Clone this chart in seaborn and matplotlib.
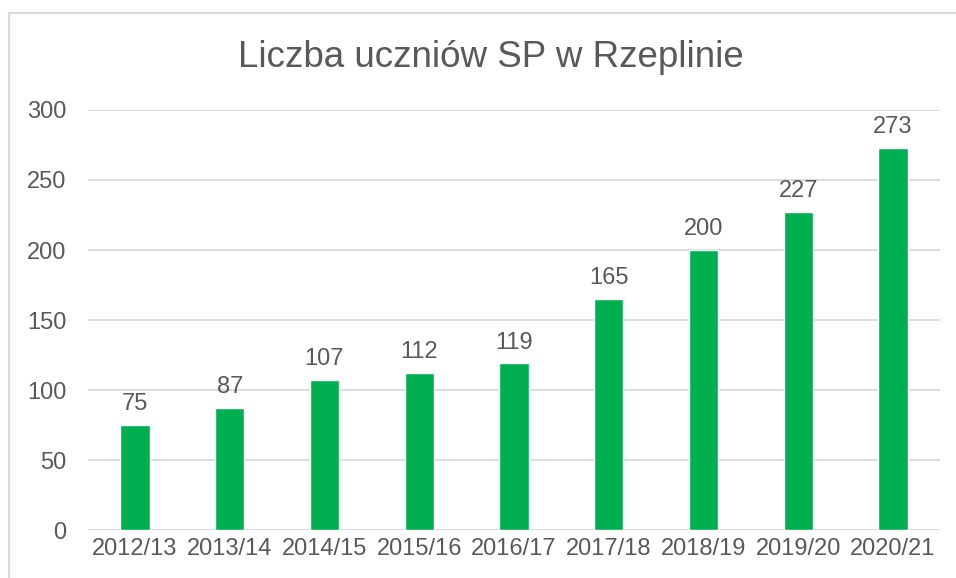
import matplotlib
matplotlib.use("Agg")
import matplotlib.pyplot as plt
import matplotlib.patches as patches
import pandas as pd
import seaborn as sns

# Dane
lata = ["2012/13", "2013/14", "2014/15", "2015/16", "2016/17",
        "2017/18", "2018/19", "2019/20", "2020/21"]
uczniowie = [75, 87, 107, 112, 119, 165, 200, 227, 273]

df = pd.DataFrame({"rok": lata, "liczba": uczniowie})

sns.set_style("white")
plt.rcParams["font.family"] = ["Liberation Sans", "DejaVu Sans"]

tekst = "#595959"
siatka = "#D9D9D9"

fig = plt.figure(figsize=(9.56, 5.78), dpi=100)
ax = fig.add_axes([0.0916, 0.0830, 0.8921, 0.7267])

sns.barplot(data=df, x="rok", y="liczba", color="#00B050", saturation=1,
            width=0.31, ax=ax)

ax.set_ylim(0, 300)
ax.set_yticks(range(0, 301, 50))
ax.set_xlim(-0.5, len(lata) - 0.5)
ax.yaxis.grid(True, color=siatka, linewidth=1.3)
ax.set_axisbelow(True)
for s in ax.spines.values():
    s.set_visible(False)
ax.axhline(0, color=siatka, linewidth=1.3, zorder=0.5)
ax.tick_params(axis="y", length=0, pad=15, labelsize=17, labelcolor=tekst)
ax.tick_params(axis="x", length=0, pad=6, labelsize=17, labelcolor=tekst)
ax.set_xlabel("")
ax.set_ylabel("")

# Etykiety wartości
for i, v in enumerate(uczniowie):
    ax.annotate(str(v), (i, v), xytext=(0, 7), textcoords="offset points",
                ha="center", va="bottom", fontsize=17, color=tekst)

fig.text(0.513, 0.9, "Liczba uczniów SP w Rzeplinie", ha="center",
         va="center", fontsize=26.5, color=tekst)

# Ramka wykresu
ramka = patches.Rectangle((9 / 956, -0.2), 1.2, 1.2 - 13 / 578 + 0.0,
                          transform=fig.transFigure, fill=False,
                          edgecolor=siatka, linewidth=1.5)
fig.patches.append(ramka)

fig.savefig("out.png", dpi=100)
